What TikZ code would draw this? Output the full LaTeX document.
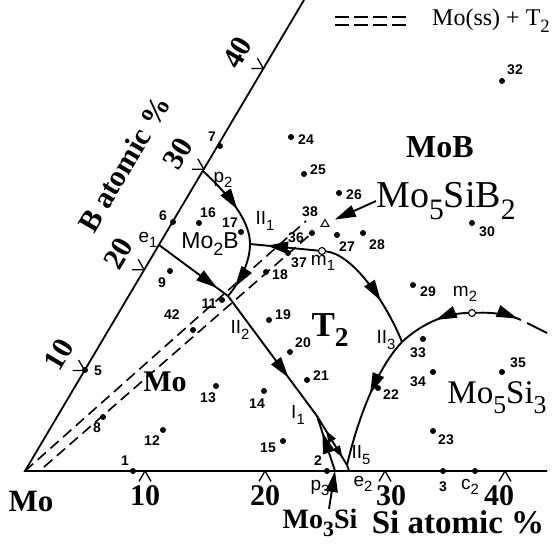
\documentclass[tikz,border=0pt]{standalone}
\usepackage{fontspec}
\setmainfont{Liberation Serif}
\setsansfont{Liberation Sans}
\usetikzlibrary{calc,arrows.meta,decorations.markings,shapes.geometric}

\newcommand{\chemsub}[1]{\raisebox{-0.3em}{\scalebox{0.78}{#1}}}
\newcommand{\fsz}[1]{\fontsize{#1}{#1}\selectfont}

\begin{document}
\begin{tikzpicture}[x=1pt, y=-1pt,
  axisline/.style={line width=1.8pt},
  liq/.style={line width=1.9pt},
  tieline/.style={line width=1.6pt, dash pattern=on 11pt off 6pt},
  sample/.style={circle, fill=black, inner sep=0pt, minimum size=6pt},
  saddle/.style={circle, draw=black, fill=white, line width=1.1pt,
    inner sep=0pt, minimum size=7pt},
  samplenum/.style={font=\sffamily\bfseries\fsz{14}, inner sep=0pt},
  invlbl/.style={font=\sffamily\fsz{19}, inner sep=0pt},
  ticklbl/.style={font=\bfseries\fsz{30}, inner sep=0pt},
  phaselbl/.style={font=\bfseries\fsz{#1}, inner sep=0pt},
  compound/.style={font=\fsz{#1}, inner sep=0pt},
  pointer/.style={-{Triangle[length=21pt,width=12pt]}},
  arr/.style={postaction={decorate, decoration={markings,
    mark=at position #1 with {\arrow{Triangle[length=21pt,width=12pt]}}}}},
  rarr/.style={postaction={decorate, decoration={markings,
    mark=at position #1 with {\arrowreversed{Triangle[length=21pt,width=12pt]}}}}},
  sarr/.style={postaction={decorate, decoration={markings,
    mark=at position #1 with {\arrow{Triangle[length=12pt,width=8pt]}}}}},
  srarr/.style={postaction={decorate, decoration={markings,
    mark=at position #1 with {\arrowreversed{Triangle[length=12pt,width=8pt]}}}}}]
\useasboundingbox (0,0) rectangle (559,548);

% axes of the Mo corner
\coordinate (O) at (25,471);
\coordinate (Siend) at (547,471);
\coordinate (Bend) at (304,0);
\draw[axisline] (Bend) -- (O) -- (Siend);
\foreach \k/\dx in {1/0,2/0,3/6,4/-6} {
  \coordinate (st\k) at ($(O)+(\k*120,0)$);
  \draw[line width=1.3pt] ($(st\k)+(-6,10.4)$) -- (st\k) -- ++(6,10.4);
  \node[ticklbl] (sl\k) at ($(st\k)+(\dx,25)$) {\k0};
}
\foreach \k in {1,...,4} {
  \coordinate (bt\k) at ($(O)+\k*(59.6,-100.6)$);
  \draw[line width=1.3pt] ($(bt\k)+(-12,0)$) -- (bt\k) -- ++(-6,-10.4);
  \node[ticklbl, rotate=59.4] (bl\k) at ($(bt\k)+(-26,-16)$) {\k0};
}
\node[phaselbl=30, rotate=59.4] (blabel) at (124,164) {B atomic \%};
\node[phaselbl=33] (silabel) at (458,522) {Si atomic \%};
\node[phaselbl=31] (mocorner) at (31,501) {Mo};

% legend
\coordinate (lg1a) at (335,17); \coordinate (lg1b) at (408,17);
\coordinate (lg2a) at (335,25); \coordinate (lg2b) at (408,25);
\draw[line width=1.4pt, dash pattern=on 14pt off 5pt] (lg1a) -- (lg1b);
\draw[line width=1.4pt, dash pattern=on 14pt off 5pt] (lg2a) -- (lg2b);
\node[compound=24] (lgtext) at (491,21) {Mo(ss) + T\chemsub{2}};

% samples
\foreach \n/\x/\y/\lx/\ly in {1/133/471/125/461, 2/327/471/318/461,
  3/443/471/443/487, 5/85/370/98/371, 6/173/222/163/216, 7/220/146/212/137,
  8/103/417/97/428, 9/170/271/162/283, 11/222/300/209/304, 12/163/430/152/441,
  13/216/386/208/398, 14/264/391/257/404, 15/283/441/268/448,
  16/199/223/208/213, 17/241/232/230/223, 18/266/272/280/275,
  19/269/320/283/315, 20/290/352/303/343, 21/307/380/321/376,
  22/378/388/391/395, 23/433/431/446/440, 24/291/137/306/140,
  25/304/174/318/170, 26/339/193/354/195, 27/337/235/347/247,
  28/363/233/377/245, 29/413/285/428/292, 30/472/223/487/232,
  32/502/81/515/70, 33/423/339/418/353, 34/433/372/418/382,
  35/502/372/518/363, 36/312/233/296/238, 37/288/253/299/263,
  42/193/330/172/315} {
  \node[sample] (d\n) at (\x,\y) {};
  \node[samplenum] (n\n) at (\lx,\ly) {\n};
}
\node[samplenum] (n38) at (310,212) {38};
\node[sample] (dc2) at (475,471) {};
\node[draw, regular polygon, regular polygon sides=3, inner sep=0pt,
  minimum size=9pt, line width=1pt] (tri) at (325,224) {};

% two-phase field Mo(ss) + T2
\coordinate (tl0) at (44,467);
\coordinate (t38) at (306,221);
\draw[tieline] (O) -- (t38);
\draw[tieline] (tl0) -- (d36);

% invariant points
\coordinate (p2) at (203,171);
\coordinate (e1) at (159,245);
\coordinate (II1) at (250,244);
\coordinate (II2) at (228,296);
\coordinate (I1) at (317,416);
\coordinate (II3) at (402,342);
\coordinate (II5) at (347,465);
\coordinate (p3) at (335,471);
\coordinate (e2) at (349,471);
\coordinate (tailA) at (521,320);
\coordinate (tailB) at (527,323);
\coordinate (tailC) at (547,333);
\node[saddle] (m1) at (322,251) {};
\node[saddle] (m2) at (472,313) {};

% liquidus valleys
\draw[liq, arr=0.58] (p2) .. controls (232,198) and (250,222) .. (II1);
\draw[liq, arr=0.8] (II1) .. controls (250,262) and (240,282) .. (II2);
\draw[liq, arr=0.75] (m1) -- (II1);
\draw[liq, arr=0.62] (m1) .. controls (352,254) and (385,300) .. (II3);
\draw[liq, arr=0.45] (m2) .. controls (445,313) and (420,325) .. (II3);
\draw[liq, arr=0.92] (m2) .. controls (495,312) and (510,315) .. (tailA);
\draw[liq] (tailB) -- (tailC);
\draw[liq, arr=0.45] (II3) .. controls (380,365) and (360,410) .. (II5);
\draw[liq] (II5) -- (e2);
\draw[liq, arr=0.84] (e1) -- (II2);
\draw[liq, arr=0.68] (II2) -- (I1);
\draw[liq, arr=0.7] (p3) -- (I1);
\draw[liq, srarr=0.3, sarr=0.85] (I1) -- (II5);

% labels of invariant points
\node[invlbl] (lp2) at (223,180) {p\chemsub{2}};
\node[invlbl] (le1) at (148,240) {e\chemsub{1}};
\node[invlbl] (lII1) at (265,221) {II\chemsub{1}};
\node[invlbl] (lII2) at (240,330) {II\chemsub{2}};
\node[invlbl] (lII3) at (386,340) {II\chemsub{3}};
\node[invlbl] (lII5) at (361,455) {II\chemsub{5}};
\node[invlbl] (lI1) at (298,415) {I\chemsub{1}};
\node[invlbl] (lm1) at (323,263) {m\chemsub{1}};
\node[invlbl] (lm2) at (465,294) {m\chemsub{2}};
\node[invlbl] (lp3) at (320,488) {p\chemsub{3}};
\node[invlbl] (le2) at (363,484) {e\chemsub{2}};
\node[invlbl] (lc2) at (470,487) {c\chemsub{2}};

% phase fields
\node[font=\sffamily\fsz{23}, inner sep=0pt] (mo2b) at (210,244) {Mo\chemsub{2}B};
\node[phaselbl=32] (mob) at (440,147) {MoB};
\node[phaselbl=35] (t2) at (330,330) {T\chemsub{2}};
\node[phaselbl=30] (moss) at (165,382) {Mo};
\node[compound=33] (mo5si3) at (497,398) {Mo\chemsub{5}Si\chemsub{3}};
\node[compound=38] (mo5sib2) at (446,201) {Mo\chemsub{5}SiB\chemsub{2}};
\node[phaselbl=28] (mo3si) at (320,523) {Mo\chemsub{3}Si};
\draw[liq, pointer] ([xshift=9pt]mo3si.north) -- (p3);
\draw[liq, pointer, shorten >=8pt] (mo5sib2.west) -- (tri);
\end{tikzpicture}
\end{document}
